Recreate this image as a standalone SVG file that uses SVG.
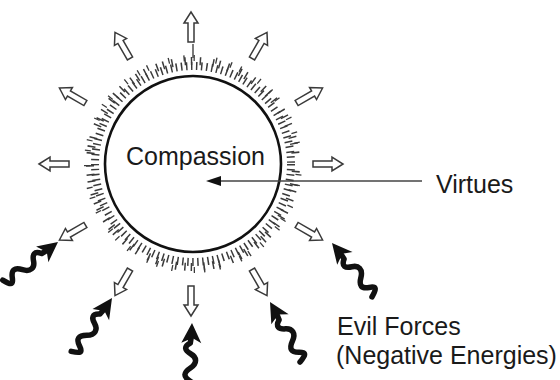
<svg xmlns="http://www.w3.org/2000/svg" xmlns:xlink="http://www.w3.org/1999/xlink" width="560" height="380" viewBox="0 0 560 380">
<style>
.lbl{font-family:"Liberation Sans",Arial,sans-serif;font-size:25px;fill:#1a1a1a}
.ha{fill:#fff;stroke:#3a3a3a;stroke-width:1.5;stroke-linejoin:miter}
.tick{fill:none;stroke:#3a3a3a}
.wave{fill:none;stroke:#111;stroke-width:5.5;stroke-linecap:round;stroke-linejoin:round}
.whead{fill:#111}
</style>
<defs>
<path id="ha" class="ha" d="M0,-15 L7,-4 L3,-4 L3,15 L-3,15 L-3,-4 L-7,-4 Z"/>
<g id="wa">
<path class="wave" d="M0,12 L-1,20 C-8,24 -6,28 0,31 S7,40 0,45 S-7,54 0,58 S4,64 -4,67"/>
<path class="whead" d="M0,0 L10,20 L1,15 L-10,20 Z"/>
</g>
</defs>
<rect width="560" height="380" fill="#fff"/>
<g id="compassion">
<circle class="tick" cx="193" cy="164" r="98" stroke-width="8" stroke-dasharray="1.5 3.6"/>
<circle class="tick" cx="193" cy="164" r="103" stroke-width="8" stroke-dasharray="1.5 7.5 1.5 11.5 1.5 5" stroke-dashoffset="2"/>
<circle class="tick" cx="193" cy="164" r="106" stroke-width="6" stroke-dasharray="1.3 14 1.3 9 1.3 21" stroke-dashoffset="5"/>
<line x1="193" y1="58" x2="193" y2="44" stroke="#333" stroke-width="1.3"/>
<circle cx="193" cy="164" r="88" fill="#fff" stroke="#111" stroke-width="2.6"/>
<text class="lbl" x="126" y="165">Compassion</text>
</g>
<g id="virtues-out">
<use xlink:href="#ha" transform="translate(191,27)"/>
<use xlink:href="#ha" transform="translate(259.5,45.4) rotate(30)"/>
<use xlink:href="#ha" transform="translate(309.6,95.5) rotate(60)"/>
<use xlink:href="#ha" transform="translate(328,164) rotate(90)"/>
<use xlink:href="#ha" transform="translate(309.6,232.5) rotate(120)"/>
<use xlink:href="#ha" transform="translate(259.5,282.6) rotate(150)"/>
<use xlink:href="#ha" transform="translate(191,301) rotate(180)"/>
<use xlink:href="#ha" transform="translate(122.5,282.6) rotate(210)"/>
<use xlink:href="#ha" transform="translate(72.4,232.5) rotate(240)"/>
<use xlink:href="#ha" transform="translate(54,164) rotate(270)"/>
<use xlink:href="#ha" transform="translate(72.4,95.5) rotate(300)"/>
<use xlink:href="#ha" transform="translate(122.5,45.4) rotate(330)"/>
</g>
<g id="evil-forces">
<use xlink:href="#wa" transform="translate(58,242) rotate(52)"/>
<use xlink:href="#wa" transform="translate(112,298) rotate(34)"/>
<use xlink:href="#wa" transform="translate(192,323) rotate(2)"/>
<use xlink:href="#wa" transform="translate(270,302) rotate(-30)"/>
<use xlink:href="#wa" transform="translate(332,243) rotate(-40)"/>
</g>
<g id="connectors">
<line x1="422" y1="181" x2="218" y2="181" stroke="#444" stroke-width="1.6"/>
<polygon points="206,181 221,176 221,186" fill="#111"/>
</g>
<g id="virtues-label">
<text class="lbl" x="436" y="193">Virtues</text>
</g>
<g id="evil-label">
<text class="lbl" x="337" y="335">Evil Forces</text>
<text class="lbl" x="336" y="364">(Negative Energies)</text>
</g>
</svg>
